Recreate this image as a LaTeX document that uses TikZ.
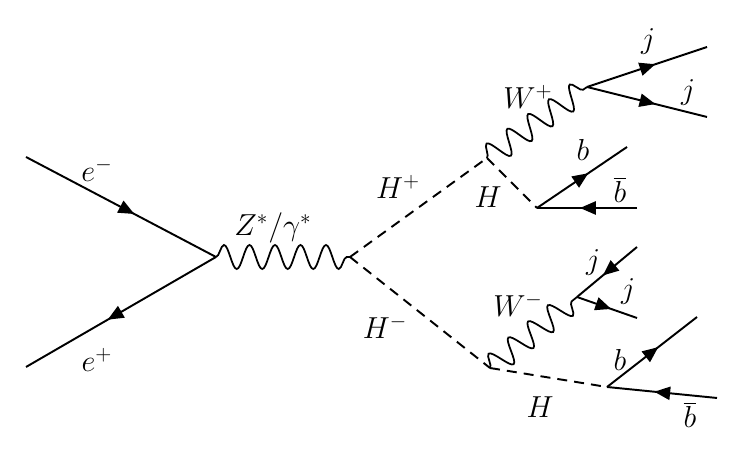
\documentclass[tikz,border=0pt]{standalone}
\usetikzlibrary{arrows.meta,decorations.pathmorphing,decorations.markings}

\tikzset{
  fermion/.style={line width=1.1pt, postaction={decorate},
    decoration={markings, mark=at position 0.57 with {\arrow{Triangle[length=9pt,width=7.5pt]}}}},
  photon/.style={line width=1pt, decorate,
    decoration={snake, amplitude=0.24cm, segment length=0.51cm}},
  scalar/.style={line width=1.1pt, dash pattern=on 5.7pt off 4pt},
  lbl/.style={font=\LARGE}
}

\begin{document}
\begin{tikzpicture}
  \useasboundingbox (0,0) rectangle (14.84,9.04);

  % Vertices and outer ends
  \coordinate (em)  at (0.52,5.90);
  \coordinate (ep)  at (0.52,1.70);
  \coordinate (vZ)  at (4.32,3.90);
  \coordinate (vH)  at (7.00,3.90);
  \coordinate (vHp) at (9.74,5.88);
  \coordinate (vWp) at (11.74,7.30);
  \coordinate (jA)  at (14.14,8.10);
  \coordinate (jB)  at (14.14,6.70);
  \coordinate (vHu) at (10.74,4.88);
  \coordinate (bA)  at (12.54,6.10);
  \coordinate (bbA) at (12.74,4.88);
  \coordinate (vHm) at (9.80,1.68);
  \coordinate (vWm) at (11.54,3.10);
  \coordinate (jC)  at (12.74,4.10);
  \coordinate (jD)  at (12.74,2.68);
  \coordinate (vHl) at (12.14,1.30);
  \coordinate (bB)  at (13.94,2.70);
  \coordinate (bbB) at (14.34,1.08);

  % Incoming leptons + Z*/gamma*
  \draw[fermion] (em) -- (vZ);
  \draw[fermion] (vZ) -- (ep);
  \draw[photon] (vZ) -- (vH);

  % H+ branch
  \draw[scalar] (vH) -- (vHp);
  \draw[photon] (vHp) -- (vWp);
  \draw[fermion] (vWp) -- (jA);
  \draw[fermion] (vWp) -- (jB);
  \draw[scalar] (vHp) -- (vHu);
  \draw[fermion] (vHu) -- (bA);
  \draw[fermion] (bbA) -- (vHu);

  % H- branch
  \draw[scalar] (vH) -- (vHm);
  \draw[photon] (vHm) -- (vWm);
  \draw[fermion] (jC) -- (vWm);
  \draw[fermion] (vWm) -- (jD);
  \draw[scalar] (vHm) -- (vHl);
  \draw[fermion] (vHl) -- (bB);
  \draw[fermion] (bbB) -- (vHl);

  % Labels
  \node[lbl] (lem)  at (1.94,5.64)  {$e^-$};
  \node[lbl] (lep)  at (1.94,1.84)  {$e^+$};
  \node[lbl] (lZ)   at (5.46,4.48)  {$Z^*/\gamma^*$};
  \node[lbl] (lHp)  at (7.96,5.30)  {$H^+$};
  \node[lbl] (lWp)  at (10.56,7.10) {$W^+$};
  \node[lbl] (ljA)  at (12.96,8.20) {$j$};
  \node[lbl] (ljB)  at (13.76,7.18) {$j$};
  \node[lbl] (lbA)  at (11.66,6.04) {$b$};
  \node[lbl] (lbbA) at (12.40,5.24) {$\overline{b}$};
  \node[lbl] (lHu)  at (9.76,5.10)  {$H$};
  \node[lbl] (lHm)  at (7.70,2.50)  {$H^-$};
  \node[lbl] (lWm)  at (10.36,2.94) {$W^-$};
  \node[lbl] (ljC)  at (11.86,3.78) {$j$};
  \node[lbl] (ljD)  at (12.56,3.20) {$j$};
  \node[lbl] (lbB)  at (12.40,1.84) {$b$};
  \node[lbl] (lHl)  at (10.80,0.90) {$H$};
  \node[lbl] (lbbB) at (13.80,0.74) {$\overline{b}$};
\end{tikzpicture}
\end{document}
